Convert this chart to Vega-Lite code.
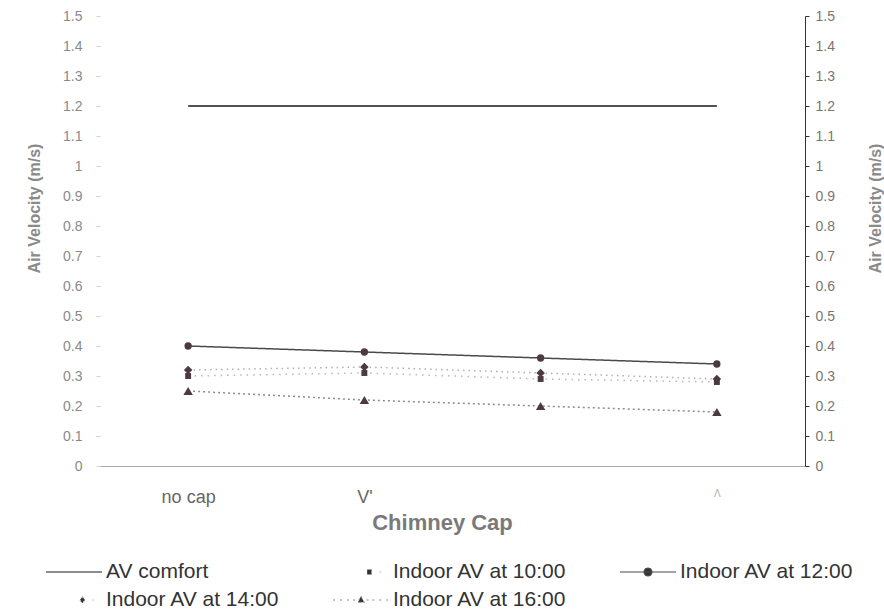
{
  "$schema": "https://vega.github.io/schema/vega-lite/v6.json",
  "width": 705,
  "height": 450,
  "autosize": {"type": "none"},
  "padding": {"left": 100, "top": 16, "right": 79, "bottom": 147},
  "background": "white",
  "config": {
    "view": {"stroke": null},
    "font": "Liberation Sans",
    "axis": {"grid": false}
  },
  "data": {
    "values": [
      {"cap": "no cap", "series": "AV comfort", "av": 1.2},
      {"cap": "V'", "series": "AV comfort", "av": 1.2},
      {"cap": "V", "series": "AV comfort", "av": 1.2},
      {"cap": "Λ", "series": "AV comfort", "av": 1.2},
      {"cap": "no cap", "series": "Indoor AV at 10:00", "av": 0.30},
      {"cap": "V'", "series": "Indoor AV at 10:00", "av": 0.31},
      {"cap": "V", "series": "Indoor AV at 10:00", "av": 0.29},
      {"cap": "Λ", "series": "Indoor AV at 10:00", "av": 0.28},
      {"cap": "no cap", "series": "Indoor AV at 12:00", "av": 0.40},
      {"cap": "V'", "series": "Indoor AV at 12:00", "av": 0.38},
      {"cap": "V", "series": "Indoor AV at 12:00", "av": 0.36},
      {"cap": "Λ", "series": "Indoor AV at 12:00", "av": 0.34},
      {"cap": "no cap", "series": "Indoor AV at 14:00", "av": 0.32},
      {"cap": "V'", "series": "Indoor AV at 14:00", "av": 0.33},
      {"cap": "V", "series": "Indoor AV at 14:00", "av": 0.31},
      {"cap": "Λ", "series": "Indoor AV at 14:00", "av": 0.29},
      {"cap": "no cap", "series": "Indoor AV at 16:00", "av": 0.25},
      {"cap": "V'", "series": "Indoor AV at 16:00", "av": 0.22},
      {"cap": "V", "series": "Indoor AV at 16:00", "av": 0.20},
      {"cap": "Λ", "series": "Indoor AV at 16:00", "av": 0.18}
    ]
  },
  "encoding": {
    "x": {
      "field": "cap",
      "type": "nominal",
      "sort": ["no cap", "V'", "V", "Λ"],
      "scale": {"type": "point", "padding": 0.5},
      "axis": {
        "title": "Chimney Cap",
        "titleFontSize": 22,
        "titleFontWeight": "bold",
        "titleColor": "#7a7a7a",
        "titleX": 342,
        "titleY": 56,
        "titleAlign": "center",
        "titleBaseline": "middle",
        "labelAngle": 0,
        "labelFontSize": {"condition": {"test": "datum.value === 'Λ'", "value": 10}, "value": 18},
        "labelColor": {"condition": {"test": "datum.value === 'Λ'", "value": "#b0b0b0"}, "value": "#666666"},
        "labelOpacity": {"condition": {"test": "datum.value === 'V'", "value": 0}, "value": 1},
        "labelPadding": 22,
        "ticks": false,
        "domain": true,
        "domainColor": "#aaaaaa"
      }
    }
  },
  "layer": [
    {
      "mark": {"type": "line", "strokeWidth": 1.5},
      "encoding": {
        "y": {
          "field": "av",
          "type": "quantitative",
          "scale": {"domain": [0, 1.5], "nice": false},
          "axis": {
            "orient": "left",
            "values": [0, 0.1, 0.2, 0.3, 0.4, 0.5, 0.6, 0.7, 0.8, 0.9, 1, 1.1, 1.2, 1.3, 1.4, 1.5],
            "format": "~g",
            "domain": false,
            "tickColor": "#d0d0d0",
            "tickSize": 4,
            "labelPadding": 14,
            "labelColor": "#8a8a8a",
            "labelFontSize": 14,
            "title": "Air Velocity (m/s)",
            "titleColor": "#8a8a8a",
            "titleFontSize": 16,
            "titleFontWeight": "bold",
            "titleAngle": -90,
            "titleBaseline": "alphabetic",
            "titleX": -61,
            "titleY": 192
          }
        },
        "color": {
          "field": "series",
          "type": "nominal",
          "scale": {
            "domain": ["AV comfort", "Indoor AV at 10:00", "Indoor AV at 12:00", "Indoor AV at 14:00", "Indoor AV at 16:00"],
            "range": ["#1a1a1a", "#b8b8b8", "#4a4a4a", "#b0b0b0", "#8c8c8c"]
          },
          "legend": {
            "orient": "none",
            "legendX": -55,
            "legendY": 544,
            "direction": "horizontal",
            "columns": 3,
            "title": null,
            "symbolSize": 3136,
            "labelFontSize": 21,
            "labelColor": "#333333",
            "labelOffset": 3,
            "labelLimit": 260,
            "columnPadding": 52,
            "rowPadding": 4,
            "clipHeight": 24,
            "encode": {
              "symbols": {
                "update": {
                  "shape": {"signal": "datum.value === 'AV comfort' ? 'M-1,0H1' : datum.value === 'Indoor AV at 10:00' ? 'M0.22,-0.09H0.38V0.09H0.22ZM0.66,0H0.72' : datum.value === 'Indoor AV at 12:00' ? 'M-1,0H1M-0.14,0A0.14,0.14 0 1 0 0.14,0A0.14,0.14 0 1 0 -0.14,0Z' : datum.value === 'Indoor AV at 14:00' ? 'M0.3,-0.12L0.39,0L0.3,0.12L0.21,0ZM0.66,0H0.72' : 'M-1,0H-0.9M-0.75,0H-0.65M-0.5,0H-0.4M-0.28,0H-0.2M0.2,0H0.28M0.4,0H0.5M0.65,0H0.75M0.9,0H1M0,-0.13L0.11,0.08L-0.11,0.08Z'"},
                  "fill": {"value": "#333333"},
                  "stroke": {"value": "#333333"},
                  "strokeWidth": {"value": 1.2},
                  "opacity": {"value": 1}
                }
              }
            }
          }
        },
        "strokeDash": {
          "field": "series",
          "type": "nominal",
          "scale": {
            "domain": ["AV comfort", "Indoor AV at 10:00", "Indoor AV at 12:00", "Indoor AV at 14:00", "Indoor AV at 16:00"],
            "range": [[1, 0], [1.5, 5], [1, 0], [1.5, 4], [2, 3]]
          },
          "legend": null
        }
      }
    },
    {
      "transform": [{"filter": "datum.series !== 'AV comfort'"}],
      "mark": {"type": "point", "filled": true, "color": "#4b3a42", "opacity": 1},
      "encoding": {
        "y": {
          "field": "av",
          "type": "quantitative",
          "axis": {
            "orient": "right",
            "values": [0, 0.1, 0.2, 0.3, 0.4, 0.5, 0.6, 0.7, 0.8, 0.9, 1, 1.1, 1.2, 1.3, 1.4, 1.5],
            "format": "~g",
            "domain": true,
            "domainColor": "#333333",
            "tickColor": "#333333",
            "tickSize": 4,
            "labelPadding": 6,
            "labelColor": "#777770",
            "labelFontSize": 14,
            "title": "Air Velocity (m/s)",
            "titleColor": "#8a8a8a",
            "titleFontSize": 16,
            "titleFontWeight": "bold",
            "titleAngle": -90,
            "titleBaseline": "alphabetic",
            "titleX": 75,
            "titleY": 192
          }
        },
        "shape": {
          "field": "series",
          "type": "nominal",
          "scale": {
            "domain": ["Indoor AV at 10:00", "Indoor AV at 12:00", "Indoor AV at 14:00", "Indoor AV at 16:00"],
            "range": ["square", "circle", "diamond", "triangle-up"]
          },
          "legend": null
        },
        "size": {
          "field": "series",
          "type": "ordinal",
          "scale": {
            "domain": ["Indoor AV at 10:00", "Indoor AV at 12:00", "Indoor AV at 14:00", "Indoor AV at 16:00"],
            "range": [35, 90, 45, 50]
          },
          "legend": null
        }
      }
    }
  ],
  "resolve": {"axis": {"y": "independent"}}
}
